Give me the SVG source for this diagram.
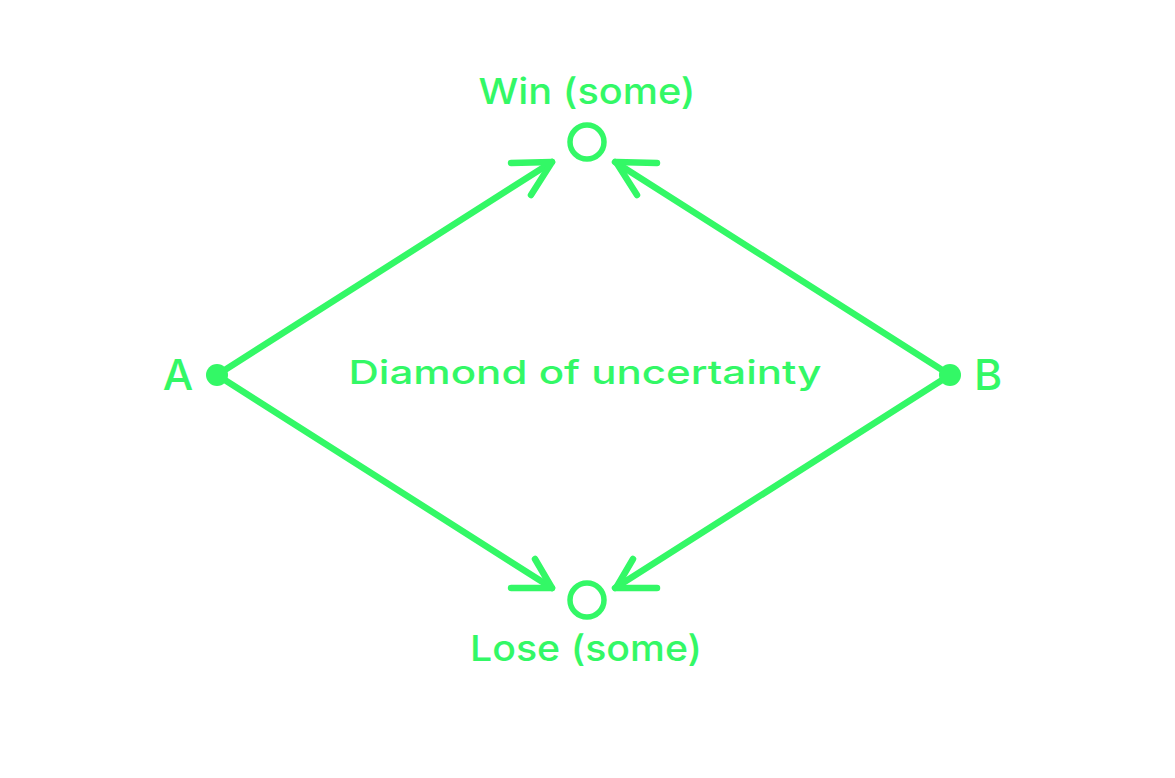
<svg xmlns="http://www.w3.org/2000/svg" width="1175" height="778" viewBox="0 0 1175 778">
<style>
.t{fill:#33f866;font-family:Inter,"Liberation Sans",Arial,sans-serif;font-weight:500}
.ln{stroke:#33f866;stroke-width:6.5;fill:none;stroke-linecap:round;stroke-linejoin:round}
</style>
<rect width="1175" height="778" fill="#ffffff"/>
<g id="connectors">
<line class="ln" x1="217" y1="375" x2="552" y2="162"/>
<polyline class="ln" points="511,163 552,162 531,195"/>
<line class="ln" x1="950" y1="375" x2="615" y2="162"/>
<polyline class="ln" points="657,163 616,162 637,195"/>
<line class="ln" x1="217" y1="375" x2="552" y2="588"/>
<polyline class="ln" points="511,588 552,588 535,559"/>
<line class="ln" x1="950" y1="375" x2="615" y2="588"/>
<polyline class="ln" points="657,588 616,588 633,559"/>
</g>
<g id="win">
<circle cx="587" cy="142" r="17" fill="none" stroke="#33f866" stroke-width="5.5"/>
<text class="t" x="587" y="104" font-size="36" text-anchor="middle" textLength="217" lengthAdjust="spacingAndGlyphs">Win (some)</text>
</g>
<g id="lose">
<circle cx="587" cy="600" r="17" fill="none" stroke="#33f866" stroke-width="5.5"/>
<text class="t" x="586" y="661" font-size="36" text-anchor="middle" textLength="232" lengthAdjust="spacingAndGlyphs">Lose (some)</text>
</g>
<g id="a">
<circle cx="217" cy="375" r="11" fill="#33f866"/>
<text class="t" x="178" y="390" font-size="43" text-anchor="middle">A</text>
</g>
<g id="b">
<circle cx="950" cy="375" r="11" fill="#33f866"/>
<text class="t" x="988" y="390" font-size="43" text-anchor="middle">B</text>
</g>
<g id="label">
<text class="t" x="585" y="384" font-size="33" text-anchor="middle" textLength="473" lengthAdjust="spacingAndGlyphs">Diamond of uncertainty</text>
</g>
</svg>
